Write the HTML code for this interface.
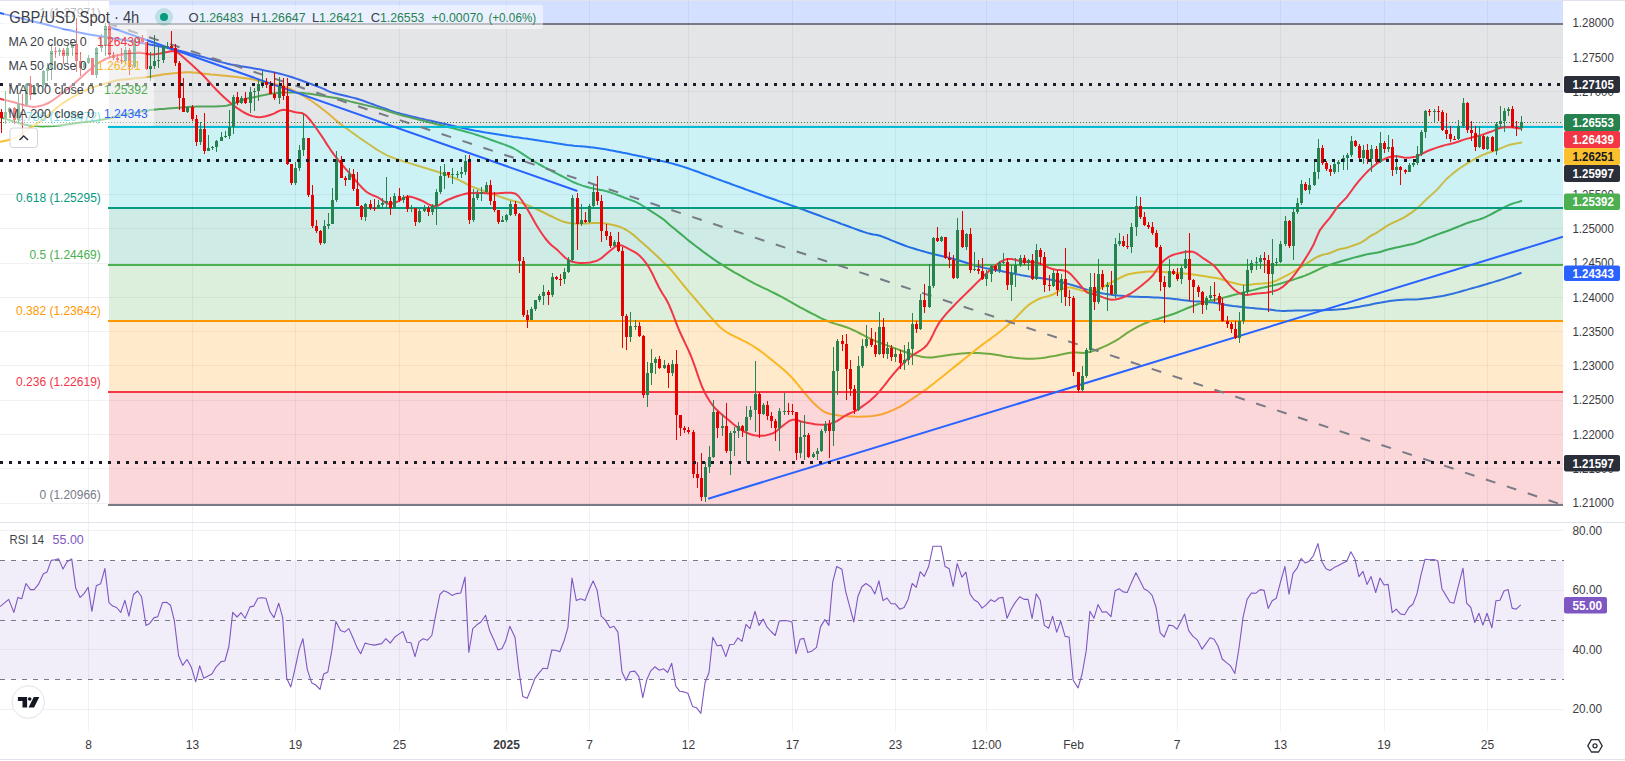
<!DOCTYPE html>
<html><head><meta charset="utf-8"><title>GBP/USD Spot 4h</title>
<style>
html,body{margin:0;padding:0;background:#ffffff;}
body{width:1625px;height:761px;overflow:hidden;font-family:"Liberation Sans",sans-serif;}
svg{display:block;}
</style></head><body>
<svg width="1625" height="761" viewBox="0 0 1625 761" font-family='"Liberation Sans", sans-serif'>
<rect x="0" y="0" width="1625" height="761" fill="#ffffff"/>
<defs>
<clipPath id="cm"><rect x="0" y="1" width="1563" height="520"/></clipPath>
<clipPath id="cr"><rect x="0" y="523" width="1564" height="207"/></clipPath>
</defs>
<path d="M88.5 1V522M88.5 523V731M192.5 1V522M192.5 523V731M295.5 1V522M295.5 523V731M399.5 1V522M399.5 523V731M506.5 1V522M506.5 523V731M589.5 1V522M589.5 523V731M688.5 1V522M688.5 523V731M792.5 1V522M792.5 523V731M895.5 1V522M895.5 523V731M986.5 1V522M986.5 523V731M1073.5 1V522M1073.5 523V731M1177.5 1V522M1177.5 523V731M1280.5 1V522M1280.5 523V731M1384.5 1V522M1384.5 523V731M1487.5 1V522M1487.5 523V731" stroke="#2a2e39" stroke-opacity="0.065" stroke-width="1" fill="none" shape-rendering="crispEdges"/>
<path d="M0 23.5H1563M0 57.5H1563M0 91.5H1563M0 125.5H1563M0 160.5H1563M0 194.5H1563M0 228.5H1563M0 263.5H1563M0 297.5H1563M0 331.5H1563M0 365.5H1563M0 400.5H1563M0 434.5H1563M0 468.5H1563M0 503.5H1563M0 530.5H1563M0 590.5H1563M0 649.5H1563M0 709.5H1563" stroke="#2a2e39" stroke-opacity="0.065" stroke-width="1" fill="none" shape-rendering="crispEdges"/>
<g clip-path="url(#cm)">
<path d="M0 13L1.8 13.4L4 14L6.5 14.6L9.4 15.3L12.5 16.1L15.8 17L19.2 17.8L22.8 18.7L26.4 19.6L29.9 20.5L33.4 21.4L36.8 22.2L40 23L43.1 23.8L46.1 24.5L49.1 25.3L52.2 26.1L55.2 26.9L58.2 27.6L61.3 28.4L64.3 29.2L67.4 29.9L70.5 30.6L73.6 31.3L76.8 32L80 32.7L83 33.3L86.1 33.9L89.2 34.4L92.3 34.9L95.5 35.4L98.7 35.9L101.9 36.4L105.1 36.9L108.3 37.4L111.5 37.9L114.7 38.4L117.9 38.9L121.1 39.5L124.3 40L127.5 40.6L130.8 41.1L134.1 41.7L137.4 42.3L140.7 42.9L144.1 43.5L147.4 44.1L150.7 44.7L153.9 45.3L157 45.9L160.1 46.5L163.1 47.1L165.9 47.6L168.6 48.2L172.5 49.1L176.1 49.9L179.5 50.7L182.7 51.5L185.7 52.3L188.7 53.1L191.7 53.9L194.8 54.8L198 55.6L201.3 56.5L204.6 57.4L207.9 58.4L211.2 59.3L214.5 60.3L217.8 61.2L221.1 62.1L224.4 62.9L227.7 63.7L231 64.4L234.3 65L237.6 65.6L240.9 66.2L244.2 66.7L247.4 67.2L250.7 67.8L254 68.4L257.3 69L260.6 69.6L263.8 70.3L267 70.9L270.2 71.6L273.4 72.2L276.7 73L280 73.8L283.4 74.6L286.8 75.6L289.8 76.5L292.9 77.5L296.2 78.6L299.5 79.8L302.8 81L306.1 82.2L309.3 83.4L312.4 84.5L315.2 85.6L317.8 86.6L320 87.4L324.3 89.1L326.7 90.4L328.8 91.4L332.3 92.6L334.8 93.3L337.6 94L340.7 94.7L343.9 95.5L347.2 96.3L350.5 97.1L353.8 97.9L357 98.8L360.1 99.8L363.3 100.8L366.5 102L369.6 103.1L372.8 104.3L375.8 105.4L378.7 106.4L381.5 107.4L384.7 108.5L387.5 109.5L390 110.5L392.8 111.4L396 112.4L400 113.5L402.4 114.1L405 114.8L407.8 115.5L410.7 116.2L413.8 116.9L416.9 117.6L420.1 118.4L423.4 119.1L426.6 119.9L429.8 120.6L432.9 121.3L436 122L439 122.7L442.1 123.4L445.2 124.1L448.2 124.8L451.3 125.5L454.4 126.2L457.5 126.9L460.5 127.6L463.5 128.2L466.4 128.8L469.2 129.4L472 130L475.6 130.7L479.1 131.3L482.5 131.9L485.8 132.5L489.1 133L492.3 133.5L495.4 134L498.5 134.5L501.5 135L504.8 135.5L508 136L511 136.4L514 136.9L517 137.3L520 137.7L523 138.2L526 138.6L529.1 139.1L532.3 139.5L535.5 140L538.7 140.5L541.9 141L545 141.4L547.9 141.9L550.8 142.3L554.4 142.9L557.8 143.4L561 143.9L564.1 144.4L567.3 144.9L570.5 145.3L573.8 145.7L577 146L580.2 146.2L583.5 146.5L586.7 146.8L590 147.2L593.3 147.6L596.6 148.1L600 148.6L603.4 149.1L606.7 149.6L610 150.2L613.3 150.8L616.5 151.4L619.8 152L623 152.7L626.2 153.3L629.5 154L632.6 154.7L635.6 155.3L638.6 155.9L641.8 156.6L645.3 157.4L649.2 158.3L651.8 158.9L654.5 159.5L657.3 160.1L660.3 160.7L663.3 161.4L666.5 162.1L669.7 162.9L673.1 163.7L676.5 164.7L680 165.7L682.8 166.6L685.6 167.5L688.6 168.5L691.6 169.6L694.7 170.7L697.8 171.8L701 173L704.2 174.2L707.4 175.4L710.6 176.5L713.8 177.7L716.9 178.9L720 180L723.1 181.1L726.2 182.2L729.2 183.3L732.3 184.5L735.4 185.6L738.5 186.7L741.5 187.8L744.6 189L747.7 190.1L750.8 191.2L753.8 192.3L756.9 193.4L760 194.5L763.1 195.6L766.1 196.7L769.1 197.7L772.2 198.8L775.2 199.8L778.2 200.9L781.2 201.9L784.3 203L787.4 204L790.5 205.1L793.6 206.2L796.8 207.3L800 208.5L803.1 209.6L806.3 210.8L809.6 212L813 213.3L816.4 214.5L819.9 215.8L823.3 217.1L826.7 218.4L830 219.6L833.2 220.8L836.3 221.9L839.2 223L842 224.1L844.6 225L848.7 226.5L852.4 227.9L855.8 229.1L858.9 230.2L861.7 231.2L864.3 232.1L866.7 232.9L869 233.6L873.2 234.5L875.8 234.7L880 235.7L882.4 236.6L885.2 237.7L888.2 238.9L891.4 240.3L894.8 241.7L898.1 243L901.4 244.3L904.6 245.5L907.7 246.6L910.8 247.6L913.8 248.5L916.9 249.5L920 250.4L923.1 251.3L926.1 252.1L929.2 253L932.3 253.8L935.3 254.6L938.4 255.3L941.5 256L944.6 256.7L947.6 257.4L950.7 258.2L953.8 259L956.9 259.9L960 260.8L963.1 261.8L966.2 262.8L969.2 263.8L972.3 264.8L975.4 265.7L978.5 266.5L981.6 267.2L984.6 267.9L987.7 268.5L990.7 269.1L993.8 269.7L996.9 270.2L999.9 270.8L1003 271.4L1006.1 272L1009.2 272.7L1012.3 273.3L1015.3 273.9L1018.4 274.6L1021.5 275.2L1024.6 275.7L1027.7 276.3L1030.8 276.8L1034 277.3L1037.1 277.7L1040.3 278.1L1043.4 278.6L1046.5 279L1049.5 279.5L1052.3 280L1055.9 280.7L1059.2 281.5L1062.5 282.4L1065.6 283.2L1068.8 284.1L1072 285L1075.3 286L1078.6 287L1081.8 288.1L1085.1 289.1L1088.4 290.1L1091.7 291L1095 291.8L1098.3 292.5L1101.6 293.2L1104.8 293.8L1108.1 294.3L1111.4 294.8L1114.7 295.2L1117.9 295.6L1121.2 295.8L1124.5 296.1L1127.7 296.3L1131 296.5L1134.3 296.7L1137.6 296.8L1140.9 296.9L1144.2 297L1147.5 297.1L1150.8 297.2L1154.1 297.4L1157.4 297.5L1160.7 297.7L1163.9 298L1167.2 298.2L1170.5 298.5L1173.8 298.9L1177.1 299.3L1180.4 299.8L1183.6 300.2L1186.9 300.6L1190.2 301L1193.5 301.3L1196.7 301.4L1200 301.6L1203.3 301.7L1206.5 301.9L1209.8 302.2L1213.1 302.6L1216.4 303.1L1219.6 303.7L1222.9 304.3L1226.2 304.9L1229.5 305.4L1232.8 305.9L1236.1 306.3L1239.3 306.7L1242.6 307.1L1245.9 307.4L1249.2 307.8L1252.6 308.1L1256.1 308.4L1259.6 308.7L1263 309L1266.2 309.2L1269 309.5L1273 310L1276 310.5L1280 310.8L1282.5 310.9L1285.1 310.9L1287.9 310.8L1291.2 310.7L1295.2 310.6L1300 310.5L1302.4 310.4L1305 310.4L1307.8 310.4L1310.7 310.4L1313.8 310.3L1317 310.3L1320.2 310.2L1323.6 310.2L1327 310.1L1330.4 310L1333.9 309.8L1337.3 309.6L1340.7 309.3L1344 309L1346.9 308.7L1349.9 308.2L1353 307.8L1356.2 307.2L1359.3 306.7L1362.5 306.1L1365.7 305.5L1368.9 304.9L1372.1 304.2L1375.2 303.6L1378.2 303L1381.2 302.5L1384.1 301.9L1386.9 301.5L1389.5 301L1392 300.7L1396.1 300.2L1399.9 299.9L1403.4 299.7L1406.6 299.6L1409.7 299.6L1412.6 299.5L1415.6 299.4L1418.5 299.3L1421.5 299L1424.9 298.6L1428.1 298.2L1431.3 297.8L1434.5 297.3L1437.6 296.8L1440.7 296.3L1443.8 295.7L1447 295L1450.2 294.3L1453.5 293.5L1456.7 292.6L1460 291.7L1463.2 290.8L1466.5 289.9L1469.8 288.9L1473 288L1476.3 287.1L1479.5 286.2L1482.8 285.2L1486.1 284.3L1489.3 283.3L1492.5 282.4L1495.7 281.4L1498.7 280.5L1502.2 279.4L1505.9 278.1L1509.6 276.9L1513.1 275.7L1516.2 274.6L1518.8 273.7L1520.8 273" stroke="#2962ff" stroke-width="2" fill="none" stroke-linejoin="round" stroke-linecap="round"/>
<path d="M0 117.2L2.2 117.9L5.4 118.9L8.9 120L12.3 121L15.3 122L18.3 122.9L21.3 123.8L24.6 124.6L28.1 125.2L31.7 125.7L35.5 126.1L39.4 126.3L42.7 126.4L46.1 126.3L49.6 126.2L53.1 126.1L56.6 125.8L60 125.4L63.4 125L66.7 124.5L70.2 123.9L73.8 123.4L77 123L80.4 122.6L83.8 122.2L87.2 121.8L90.5 121.4L93.5 121L97.5 120.4L101.2 119.8L104.7 119.2L108.3 118.5L112 117.6L115.6 116.7L119.3 115.7L123 114.8L126.7 114.1L130.4 113.5L134.1 112.9L137.8 112.3L141.5 111.6L145.2 111L148.9 110.3L152.6 109.8L156.3 109.4L160 109.1L163.7 108.9L167.4 108.6L171.1 108.3L174.7 108L178.3 107.7L182 107.4L185 107.2L188 107L191 106.8L194 106.7L197 106.6L200.7 106.6L204.4 106.6L208 106.6L211.7 106.6L215.5 106.5L219.4 106.3L223.1 106.1L226.5 105.7L230.1 104.8L233.2 103.7L236.3 102.5L239.4 101.3L242.6 100L246 98.8L248.9 98.1L252.1 97.5L255.3 96.9L258.5 96.3L261.6 95.6L264.7 95L267.7 94.3L270.8 93.8L273.9 93.4L276.9 93L279.9 92.8L283 92.6L286 92.5L289 92.5L292.1 92.5L295.4 92.6L298.9 92.8L302.5 93L306.3 93.4L310 93.8L313 94.2L316 94.7L319 95.2L322 95.8L325 96.3L328.7 96.9L332.4 97.5L336 98.1L339.7 98.8L343.4 99.6L347.1 100.6L350.8 101.6L354.5 102.5L358.2 103.4L361.8 104.2L365.5 105.1L369.2 106L372.9 106.9L376.5 107.8L380.2 108.8L384 109.8L387.1 110.7L390.1 111.7L393.3 112.7L396.5 113.8L400 114.8L403.1 115.7L406.4 116.5L409.8 117.4L413.2 118.3L416.6 119.1L420 120L423.3 120.8L426.7 121.7L430 122.5L433.4 123.3L436.7 124.2L440 125L443.3 125.8L446.7 126.7L450 127.5L453.3 128.3L456.6 129.2L459.7 130L463.3 131L466.8 132L470.2 132.9L473.6 133.9L477 135L480.4 136.1L483.8 137.3L487.2 138.4L490.6 139.7L494.2 141L497.4 142.1L500.6 143.3L504 144.4L507.4 145.7L510.6 147L513.8 148.5L517.4 150.5L521 152.8L524.4 155.1L527.8 157.4L531 159.5L534.9 161.8L538.5 164L542.2 166L545.8 168L549.5 169.9L553.2 171.8L556.9 173.6L560.6 175.5L564.3 177.4L568 179.4L571.7 181.3L575.4 183L579 184.4L582.5 185.6L586.2 186.7L590 187.8L593.3 188.6L596.8 189.2L600.3 189.9L603.9 190.6L607.4 191.5L610.9 192.6L614.5 193.9L618.1 195.2L621.5 196.5L624.6 197.7L628 199L631.1 200.1L634 201.2L637 202.6L640 204.2L642.9 206L646 207.9L649.2 210L652.9 212.4L657 215L660.9 217.6L664 219.8L669.8 225L671.9 226.7L674.5 228.8L677.4 231.3L680.6 233.9L683.9 236.6L687.3 239.4L690.7 242.1L694 244.7L697 247L700.2 249.4L703.2 251.7L706.2 253.9L709.1 256L712.1 258.1L715.1 260.2L718.2 262.3L721.5 264.4L724.6 266.3L727.8 268.3L731.1 270.3L734.4 272.3L737.8 274.2L741.2 276.2L744.5 278L747.8 279.9L751 281.6L754.1 283.3L757.2 284.8L760.3 286.3L763.3 287.8L766.3 289.2L769.3 290.7L772.2 292.1L775.1 293.5L778 295L781.2 296.7L784.4 298.4L787.5 300.2L790.6 301.9L793.6 303.7L796.7 305.4L799.7 307.1L802.8 308.7L805.9 310.3L809 312L812.1 313.6L815.3 315.2L818.4 316.8L821.4 318.3L824.4 319.7L827.4 321L830.7 322.3L834 323.4L837.2 324.4L840.3 325.3L843.4 326.3L846.5 327.3L849.5 328.4L853 330L856.6 331.7L860.1 333.5L863.4 335.2L866.5 336.8L869.2 338.2L873.1 340L876.1 341.3L880 342.8L882.8 343.9L886.1 345.1L889.6 346.4L893.2 347.7L896.6 348.9L899.7 350L903.7 351.5L907.4 352.8L910.9 354L914.5 355L918.1 355.9L921.5 356.7L925.2 357.3L929.2 357.5L932.2 357.4L935.4 357L938.8 356.5L942.2 356L945.7 355.4L949 355L952.3 354.6L955.5 354.2L958.8 353.8L962.1 353.4L965.3 353.2L968.6 353L971.8 352.9L975 353L978.1 353L981.4 353.2L984.7 353.5L988.3 353.8L991.2 354.1L994.2 354.6L997.4 355.1L1000.7 355.6L1003.9 356.2L1007.1 356.7L1010.1 357.1L1013 357.5L1016.6 357.9L1019.9 358.3L1023.1 358.5L1026.2 358.7L1029.4 358.8L1032.6 358.8L1035.9 358.6L1039.2 358.3L1042.4 357.9L1045.7 357.4L1049 356.8L1052.3 356.3L1055.6 355.7L1059 355L1062.5 354.3L1065.8 353.6L1069 353L1072 352.6L1076 352.5L1079.7 352.7L1083.2 352.9L1086.8 352.6L1090.5 351.8L1094.2 350.6L1097.8 349.2L1101.5 347.7L1105.2 346.1L1108.9 344.3L1112.6 342.4L1116.3 340.3L1120 338L1123.7 335.4L1127.3 332.8L1131 330.5L1134.7 328.4L1138.4 326.4L1142.1 324.6L1145.8 323L1149.5 321.6L1153.2 320.3L1156.9 319.2L1160.6 318L1164.3 316.8L1168 315.7L1171.7 314.5L1175.4 313.2L1179.1 311.7L1182.8 310.1L1186.5 308.5L1190.2 307L1193.9 305.6L1197.6 304.3L1201.3 303.1L1205 302L1208.7 301L1212.4 300.2L1216 299.4L1219.7 298.5L1223.4 297.6L1227.1 296.7L1230.8 295.7L1234.5 294.8L1238.2 293.9L1241.9 292.9L1245.5 291.9L1249.2 291L1252.9 290.1L1256.5 289.2L1260.2 288.3L1264 287.4L1267 286.7L1269.9 286.1L1272.9 285.5L1276.2 284.7L1280 283.7L1282.7 282.9L1285.7 282L1288.9 281L1292.2 280L1295.5 278.9L1298.8 277.8L1302 276.7L1305 275.6L1308.2 274.3L1311.3 272.9L1314.4 271.5L1317.3 270.1L1320.2 268.7L1323.1 267.4L1326 266.2L1329.4 264.9L1332.9 263.8L1336.4 262.7L1339.7 261.7L1342.8 260.8L1345.6 260L1349.2 259L1352.1 258.1L1354.8 257.4L1357.6 256.7L1361.4 255.7L1365.1 254.7L1368.6 253.9L1371.8 253.4L1374.8 253L1377.8 252.5L1380.9 251.7L1383.9 250.7L1387 249.8L1390.1 249L1393.1 248.2L1396.2 247.5L1399.2 246.9L1402.2 246.3L1405.4 245.6L1408.9 244.8L1412.7 244L1416.4 242.9L1420.1 241.5L1423.8 239.9L1427.5 238.3L1431.2 236.9L1434.8 235.5L1438.5 234.1L1442.1 232.8L1445.8 231.5L1450 230L1453 228.8L1456.2 227.5L1459.5 226.1L1463 224.7L1466.3 223.4L1469.6 222.3L1472.9 221.3L1476.2 220.4L1479.5 219.4L1482.6 218.3L1486.4 216.6L1490 214.8L1493.5 213L1496.9 211.2L1500.1 209.5L1503.1 207.9L1506 206.4L1509 205L1512.3 203.8L1515.9 202.6L1519.1 201.7L1521.3 201" stroke="#4caf50" stroke-width="2" fill="none" stroke-linejoin="round" stroke-linecap="round"/>
<path d="M0 141.8L2.7 141.3L6.5 140.5L10.8 139.5L14.8 138L18.5 136L22.2 133.5L25.8 130.9L29.5 128.3L33.2 125.9L36.9 123.6L40.6 121.1L44.3 118.5L48 115.5L51.6 112.2L55.3 109L59 106L62.7 103.3L66.4 100.8L70.1 98.5L73.8 96.3L77.5 94.3L81.2 92.4L84.9 90.6L88.6 89L92.3 87.6L96 86.3L99.7 85.1L103.4 84L107.1 82.9L110.7 81.9L114.3 81.1L118 80.3L121 79.8L124 79.5L127 79.2L130 78.9L133 78.6L136.7 78.2L140.4 77.8L144 77.5L147.7 77L151.4 76.4L155.1 75.8L158.8 75.2L162.5 74.6L166.2 74.1L170 73.7L173.7 73.3L177.2 73L180.4 72.7L183.3 72.4L186.3 72.2L189.5 72.2L193 72.4L196.6 72.8L200.4 73.3L204.3 73.7L207.6 74L211.1 74.4L214.7 74.7L218.2 75.1L221.5 75.4L225.4 75.8L229.1 76.2L232.7 76.6L236.3 77L240 77.4L243.7 77.9L247.3 78.4L251 79L254.7 79.9L258.4 80.9L262.1 81.9L265.8 82.8L269.5 83.4L273.2 83.8L276.9 84.4L280.6 85.2L284.3 86.4L288 87.9L291.7 89.6L295.4 91.4L299.1 93.3L302.7 95.4L306.3 97.6L310 100L313 102L316 104.2L319 106.4L322 108.7L325 111L328.8 114.1L332.6 117.3L336.2 120.5L339.7 123.4L343.7 126.5L347.4 129.1L351.4 132L354.8 134.4L358.3 137L362.1 139.6L366 142.3L369.3 144.5L372.9 146.9L376.5 149.3L380.1 151.5L383.4 153.4L387.1 155.3L390.5 156.8L394 158.1L398 159.5L401 160.5L404.2 161.6L407.6 162.6L411 163.6L414.4 164.7L417.8 165.7L421.1 166.7L424.4 167.7L427.7 168.7L430.9 169.7L434.2 170.7L437.5 171.8L440.8 173L444.2 174.2L447.7 175.4L451 176.7L454.2 178L457.2 179.2L461.2 181.1L464.8 183L468.2 184.8L472 186.6L475.3 187.9L478.7 189.2L482.2 190.4L485.7 191.6L489.2 192.8L492.7 194.1L496.1 195.3L499.6 196.6L503 197.8L506.5 199L510 200L513.5 201L517 201.8L520.4 202.8L523.7 203.8L527.6 205.3L531.4 206.8L535 208.4L538.5 210L541.7 211.5L544.7 213L547.6 214.5L550.8 216L554.2 217.7L557.8 219.4L561.6 221.1L565.5 222.3L568.8 222.9L572.2 223.2L575.8 223.4L579.3 223.5L582.8 223.5L586.2 223.5L589.7 223.3L593.1 223L596.6 222.9L600 223L603.5 223.3L607.1 223.8L610.7 224.4L614.1 225.2L617.2 226L620.6 227.1L623.5 228.4L626.4 230L629.5 232L633 234.6L636.7 237.8L640.5 241.2L644.3 244.5L648 247.8L651.8 251.3L655.5 254.7L659 258L662.2 261.1L665.3 264L668.3 267L671.4 270.3L674.6 274.1L677.8 278.1L681.2 282.3L684.6 286.5L688.2 290.8L691.9 295.1L695.7 299.5L699.4 303.8L703.2 308.3L707 312.8L710.7 317.1L714.2 321L717.1 324.1L719.6 326.7L722.5 329.2L726.5 332L729.1 333.6L732.2 335.2L735.5 336.8L739 338.5L742.6 340.3L746.2 342.1L749.7 344L753 346L756.2 348.1L759.5 350.4L762.8 352.8L766 355.3L769.1 357.7L772.1 360.1L774.9 362.4L777.5 364.5L782 368.2L785.7 371.6L789.1 374.7L792.3 378L796.2 382.5L799.7 386.9L803.4 391.5L806.7 395.3L810.1 399.3L813.6 403.1L817 406.3L819.9 408.8L822.4 410.7L825.3 412.3L829.2 413.7L831.7 414.3L834.5 414.8L837.5 415.3L840.7 415.7L844 416L847.4 416.3L850.6 416.5L853.8 416.6L856.9 416.7L860 416.7L863.2 416.6L866.3 416.5L869.4 416.3L872.5 416L875.5 415.6L878.5 415L881.8 414.2L885 413.2L888.1 412.1L891.3 410.8L894.4 409.4L897.5 407.9L900.6 406.3L903.9 404.4L907.4 402.2L910.9 399.8L914.4 397.4L917.6 395.2L920.5 393.1L922.8 391.5L925.8 389.6L929.2 387L931.4 385.3L934.1 383.2L937.1 380.8L940.4 378.2L943.8 375.4L947.2 372.7L950.6 370L953.8 367.4L956.9 364.9L960.1 362.4L963.3 359.8L966.5 357.2L969.6 354.7L972.7 352.3L975.7 349.9L978.5 347.7L982.1 344.9L985.6 342.3L989 339.9L992.2 337.5L995.3 335.3L998.2 333L1002.2 329.8L1005.9 326.8L1009.4 323.8L1013 320.6L1016.7 316.9L1020.5 312.9L1024.2 309L1027.7 305.8L1030.9 303.4L1034 301.5L1037 299.9L1040 298.5L1043 297.4L1046 296.7L1049.1 295.9L1052.3 294.8L1055.7 293L1059.3 290.6L1063.1 288.6L1067 287.4L1070.4 287.5L1074 288.3L1077.6 289.4L1081.1 290.4L1084.3 291L1087.7 291.2L1090.6 291.1L1093.5 290.6L1096.6 289.8L1100.1 288.4L1103.8 286.5L1107.6 284.5L1111.4 282.5L1115.2 280.5L1119 278.4L1122.7 276.5L1126.2 275L1129.4 274L1132.4 273.4L1135.3 273L1138.5 272.6L1141.9 272.2L1145.5 271.8L1149.3 271.5L1153.2 271.4L1156.5 271.5L1159.9 271.7L1163.5 272L1167 272.3L1170.5 272.6L1173.9 272.8L1177.4 273L1180.8 273.2L1184.3 273.5L1187.7 273.8L1191.2 274.2L1194.7 274.7L1198.3 275.2L1201.7 275.8L1205 276.3L1208.9 276.9L1212.7 277.5L1216.3 278.1L1219.7 278.8L1222.9 279.7L1226 280.7L1229 281.6L1232 282.5L1235 283.3L1238 284.1L1241.1 284.7L1244.3 285L1247.9 284.9L1251.6 284.6L1255.4 284.1L1259 283.7L1262.4 283.5L1265.6 283.2L1268.6 283L1271.4 282.5L1276 280.8L1280 278.8L1283.9 276.9L1288.3 274.6L1291.1 273L1294.1 271.3L1297.4 269.3L1301 267.2L1304.2 265.2L1307.6 262.9L1311.1 260.6L1314.6 258.4L1317.7 256.7L1321.2 255.3L1324.4 254.4L1327.4 253.7L1330 253L1333.9 251.3L1337.4 249.8L1340.1 249.1L1343.1 248.6L1346.6 247.7L1350 246.6L1353.9 245.3L1357.9 243.9L1361.3 242.4L1364.9 240.2L1367.9 237.9L1370.5 236L1376 233.2L1379.3 231L1383.3 228.3L1387 225.9L1390.2 224.2L1393.2 222.7L1396.2 221.3L1399.2 219.9L1402.2 218.5L1405.4 216.7L1408.9 214.4L1412.7 211.8L1416.4 208.9L1420.2 205.5L1423.9 201.8L1427.5 198.3L1430.7 195.4L1433.7 192.8L1436.7 190L1439.7 186.7L1442.7 183.1L1446 179.6L1448.8 177L1451.8 174.4L1454.9 171.9L1458.2 169.4L1461.7 167L1465.3 164.6L1468.9 162.3L1472.4 160.3L1475.6 158.5L1478.6 156.9L1481.6 155.5L1484.6 154.2L1487.7 153L1490.8 152L1493.8 151.1L1496.9 150L1499.9 148.7L1503 147.4L1506 146.1L1509 145L1512.3 144.2L1515.9 143.5L1519.1 143L1521.3 142.6" stroke="#fbc02d" stroke-width="2" fill="none" stroke-linejoin="round" stroke-linecap="round"/>
<rect x="109" y="0" width="1454" height="24" fill="#2962ff" fill-opacity="0.2"/>
<rect x="109" y="24" width="1454" height="103" fill="#787b86" fill-opacity="0.2"/>
<rect x="109" y="127" width="1454" height="81" fill="#00bcd4" fill-opacity="0.2"/>
<rect x="109" y="208" width="1454" height="57" fill="#089981" fill-opacity="0.2"/>
<rect x="109" y="265" width="1454" height="56" fill="#4caf50" fill-opacity="0.2"/>
<rect x="109" y="321" width="1454" height="71" fill="#ff9800" fill-opacity="0.2"/>
<rect x="109" y="392" width="1454" height="113" fill="#f23645" fill-opacity="0.2"/>
<rect x="108" y="23" width="1455" height="2" fill="#787b86"/>
<rect x="108" y="126" width="1455" height="2" fill="#00bcd4"/>
<rect x="108" y="207" width="1455" height="2" fill="#089981"/>
<rect x="108" y="264" width="1455" height="2" fill="#4caf50"/>
<rect x="108" y="320" width="1455" height="2" fill="#ff9800"/>
<rect x="108" y="391" width="1455" height="2" fill="#f23645"/>
<rect x="108" y="504" width="1455" height="2" fill="#787b86"/>
<text x="100.8" y="17.2" font-size="12" fill="#787b86" text-anchor="end">1 (1.27971)</text>
<text x="100.8" y="121.2" font-size="12" fill="#00bcd4" text-anchor="end">0.786 (1.26472)</text>
<text x="100.8" y="202.2" font-size="12" fill="#089981" text-anchor="end">0.618 (1.25295)</text>
<text x="100.8" y="259.2" font-size="12" fill="#4caf50" text-anchor="end">0.5 (1.24469)</text>
<text x="100.8" y="315.2" font-size="12" fill="#ff9800" text-anchor="end">0.382 (1.23642)</text>
<text x="100.8" y="386.2" font-size="12" fill="#f23645" text-anchor="end">0.236 (1.22619)</text>
<text x="100.8" y="499.2" font-size="12" fill="#787b86" text-anchor="end">0 (1.20966)</text>
<path d="M0 98.8L2.7 99.5L6.6 100.4L10.9 101.5L14.8 102.5L18.1 103.5L21.2 104.4L24.2 105.3L27 106L30.4 106.6L33.6 106.9L37 106.6L39.9 106L43 105.1L46.1 104L49.2 102.5L52.3 100.7L55.3 98.5L58.4 96.2L61.5 93.8L64.6 91.5L67.7 89L70.7 86.6L73.8 84L76.8 81.3L79.9 78.5L82.9 75.7L86 73L89.1 70.3L92.2 67.7L95.4 65.2L98.5 63L101.6 61.1L104.7 59.5L107.7 58.2L110.8 57L113.8 56.1L116.7 55.5L119.8 55L123 54.5L126.5 53.9L130.2 53.2L134 52.7L137.8 52.5L141.5 52.8L145.2 53.5L148.9 54.2L152.6 54.5L156.4 54.1L160.4 53.4L164.1 52.6L167.4 52L171.9 51L176 51.5L179.3 53.7L183 56.9L187 60.6L190.4 63.6L194.2 66.9L198 70.4L201.8 74L205.5 77.9L209.2 82L212.9 86.1L216.6 90L220.3 93.7L224 97.2L227.7 100.6L231.4 103.7L235.1 106.6L238.8 109.2L242.5 111.6L246 113.5L249.3 115L252.4 116.1L255.4 116.8L258.5 117.2L261.6 117.1L264.7 116.5L267.7 115.7L270.8 114.8L273.9 113.6L276.9 112L279.9 110.6L283 109.8L286.1 109.9L289.3 110.6L292.5 111.5L295.4 112.3L298.8 112.7L301.8 113L305.2 114.8L308 117.5L310.9 121L314.1 125.2L317.5 130L320.5 134.4L323.8 139.3L327.1 144.6L330.6 149.8L334 154.6L337.5 159.1L341 163.5L344.6 167.7L348.1 171.7L351.4 175.5L355.3 180.1L359 184.4L362.6 188.3L366 191.5L369.3 193.7L372.5 195.2L375.6 196.4L378.5 197.7L382 200.1L385.1 202.4L388.3 203.8L391.5 203.7L394.7 202.7L398 201.4L401.2 199.6L404.5 197.6L408 196.5L410.9 196.7L413.9 197.6L417 198.7L420.3 200L423.9 201.7L427.6 203.8L431.4 205.5L435 206.3L438.1 205.6L441 203.9L444 201.8L447.4 200L450.6 198.7L454.2 197.3L457.8 196L461.4 194.9L464.6 194L468 193.3L471 193L473.9 192.9L477 192.8L480.4 192.9L483.9 193.1L487.6 193.4L491.7 193.5L494.8 193.4L498.4 193.2L502 193L505.6 192.8L508.8 192.7L511.4 192.8L515.7 193.7L518.8 196.5L521.9 200.5L525.2 205.7L528.6 211.2L531.9 216.9L535.2 222.9L538.5 228.5L541.8 233.5L545 238L548.3 242L551.5 245.2L554.7 247.8L558 250.6L561.5 254.1L565.2 257.7L569.2 260.5L572.4 261.8L575.8 262.5L579.3 262.9L582.8 263L586.5 262.8L590.4 262.4L594.1 261.6L597.5 260.5L601.1 258.4L604.2 255.7L607.4 253L611 250L614.8 246.9L618.5 245.2L622.2 245.6L625.9 247.4L629.5 249.4L632.9 251.1L636.1 252.9L639.4 255.5L642.7 258.9L645.9 262.9L649.2 267.8L652.5 273.9L655.7 280.8L659 287.5L662.3 293.2L665.7 298.5L669 304.8L672.2 312.5L675.5 321.2L679 330L682 336.5L685.1 343.1L688.3 349.9L691.4 357L695.2 367.4L698.9 378.3L702.5 387.8L706 395.1L709.6 401L713.5 406.3L716.9 410.1L720.7 413.5L724.5 416.7L728.3 419.8L732 422.9L735.6 425.9L739.3 428.7L743 431L746.7 432.8L750.4 434.2L754.1 435.3L757.8 435.8L761.6 435.8L765.5 435.4L769.2 434.5L772.6 433.4L776.3 431.3L779.4 428.6L782.5 426L785.7 423.5L788.9 421.2L792.3 419.8L795.1 419.8L798 420.5L801.1 421.5L804.6 422.3L807.8 422.9L811.4 423.5L815 424.2L818.6 424.6L821.8 424.8L825.2 424.6L828.3 424.2L831.2 423.4L834.2 422.3L837.3 420.8L840.4 418.9L843.4 416.9L846.5 415L849.5 413.5L852.3 412.3L855.4 410.8L858.8 408.8L861.9 406.7L865.3 404.3L868.8 401.7L872.4 398.6L876 395.2L879.1 391.8L882.3 388L885.6 383.8L888.8 379.7L891.9 375.8L894.8 372.3L898.7 368L902.2 364.2L905.7 360.8L909.5 357.5L912.9 355L916.5 352.9L920.1 350.7L923.6 348.3L926.8 345.2L930.1 340.2L933.1 334.4L935.9 328.4L939 323L942.5 318.3L946.2 313.9L950 309.8L953.8 305.8L957.5 301.9L961.2 298.2L964.9 294.6L968.6 291L972.4 287.2L976.2 283.4L979.9 279.7L983.4 276.3L986.7 273.2L989.7 270.2L992.7 267.5L995.7 265.2L998.7 263.1L1001.7 261.2L1004.7 259.8L1008 259L1011.5 259L1015.2 259.8L1019 260.8L1022.8 261.5L1026.5 261.8L1030.2 261.9L1033.8 262.2L1037.5 262.8L1041.2 264.1L1044.9 265.8L1048.6 267.6L1052.3 269L1056.1 269.7L1059.9 270L1063.7 270.4L1067 271.4L1070.7 274.1L1073.9 277.6L1077 281.2L1080.3 285.1L1083.5 289.2L1086.8 292.3L1089.9 293.7L1093 294.1L1096.6 294.8L1099.9 296.1L1103.7 297.6L1107.6 299L1111.4 299.7L1115.1 299.5L1118.8 298.8L1122.5 297.6L1126.2 296L1130 294L1133.8 291.5L1137.5 288.7L1141 286L1144.3 283.3L1147.6 280.6L1150.5 277.8L1153.2 275L1157.1 269.3L1160.6 264L1164.7 259.8L1169.2 256.6L1172.7 255L1176.4 253.9L1180.3 253L1183.3 252.3L1186.5 251.7L1189.7 251.5L1192.6 251.7L1196 253.1L1199.1 255.3L1202.5 257.8L1205.5 259.7L1208.7 261.8L1211.8 264L1214.8 266.5L1218.2 270.4L1221.4 274.7L1224.6 278.8L1227.9 282.8L1231.2 286.6L1234.5 289.8L1237.7 292.1L1240.9 293.8L1244.3 294.8L1247.2 294.9L1250.3 294.5L1253.5 294L1256.6 293.5L1259.7 293.3L1262.9 293L1266 292.8L1269 292.3L1272.8 291.4L1276.5 290.3L1280 288.6L1283.4 286.3L1286.7 283.4L1290 280L1293.2 276.3L1296.4 272.2L1300 267L1303.3 261.9L1307 256L1310.6 250L1313.5 244.8L1316.7 237.1L1319.6 230.6L1322.9 226.1L1326.6 221.7L1330 217.6L1333.8 212.1L1337.4 207L1340.5 203.6L1343.7 200.4L1346.6 197.4L1352 190L1354.8 186.1L1358.3 181.7L1361.4 178.1L1365 174.1L1368.5 170.5L1371.9 167.4L1375.3 164.7L1378.7 162.3L1382.2 160.2L1385.7 158.5L1388.9 157.2L1393 156.3L1397 156.2L1400.2 156.7L1403.7 157.4L1407.2 157.8L1410.6 157.6L1414 157.1L1417.4 156.2L1420.6 154.7L1423.9 152.9L1427.6 151L1430.9 149.7L1434.6 148.4L1438.4 147.1L1441.9 146L1445.1 145.1L1448.1 144.4L1451 143.8L1454 143L1457.1 142L1460.1 141L1463.2 139.9L1466.3 138.9L1469.4 138.1L1472.4 137.3L1475.5 136.6L1478.5 135.8L1481.6 134.9L1484.7 133.9L1487.8 132.8L1490.7 131.8L1494.3 130.3L1497.7 128.8L1501 127.7L1504.3 127.2L1507.7 127.2L1511 127.3L1514.8 127.7L1518.6 128.3L1521.3 128.7" stroke="#f23645" stroke-width="2" fill="none" stroke-linejoin="round" stroke-linecap="round"/>
<path d="M110 27.3L577.4 191" stroke="#2962ff" stroke-width="2" fill="none"/>
<path d="M708.2 498.7L1563 236.8" stroke="#2962ff" stroke-width="2" fill="none"/>
<path d="M109.3 24L1563 505" stroke="#787b86" stroke-width="2" stroke-dasharray="10 12" stroke-dashoffset="2" fill="none"/>
<path d="M4 112h3v6h-3zM5 91h1v21h-1zM5 118h1v6h-1zM8 108h3v4h-3zM9 107h1v1h-1zM9 112h1v2h-1zM17 104h3v16h-3zM18 93h1v11h-1zM18 120h1v3h-1zM25 84h3v21h-3zM26 83h1v1h-1zM26 105h1v1h-1zM33 87h3v8h-3zM37 85h3v2h-3zM38 83h1v2h-1zM42 71h3v14h-3zM43 70h1v1h-1zM43 85h1v2h-1zM46 68h3v3h-3zM47 63h1v5h-1zM47 71h1v10h-1zM50 51h3v17h-3zM51 44h1v7h-1zM51 68h1v12h-1zM58 50h3v2h-3zM59 48h1v2h-1zM59 52h1v4h-1zM66 48h3v8h-3zM67 45h1v3h-1zM67 56h1v7h-1zM71 44h3v4h-3zM72 42h1v2h-1zM72 48h1v8h-1zM83 63h3v5h-3zM84 68h1v2h-1zM87 58h3v5h-3zM88 55h1v3h-1zM88 63h1v1h-1zM95 48h3v27h-3zM96 47h1v1h-1zM96 75h1v3h-1zM100 46h3v2h-3zM101 34h1v12h-1zM101 48h1v4h-1zM104 26h3v20h-3zM105 23h1v3h-1zM105 46h1v10h-1zM124 50h3v11h-3zM125 47h1v3h-1zM125 61h1v3h-1zM133 40h3v27h-3zM134 39h1v1h-1zM134 67h1v1h-1zM137 38h3v2h-3zM138 36h1v2h-1zM138 40h1v2h-1zM149 66h3v3h-3zM150 52h1v14h-1zM150 69h1v12h-1zM153 61h3v5h-3zM154 35h1v26h-1zM154 66h1v3h-1zM157 60h3v1h-3zM158 46h1v14h-1zM158 61h1v7h-1zM162 46h3v14h-3zM163 45h1v1h-1zM163 60h1v3h-1zM166 46h3v1h-3zM167 42h1v4h-1zM167 47h1v2h-1zM186 107h3v5h-3zM187 112h1v1h-1zM199 129h3v13h-3zM200 122h1v7h-1zM200 142h1v3h-1zM207 148h3v3h-3zM208 135h1v13h-1zM211 147h3v1h-3zM212 146h1v1h-1zM212 148h1v2h-1zM215 141h3v6h-3zM216 140h1v1h-1zM216 147h1v5h-1zM220 137h3v4h-3zM221 132h1v5h-1zM224 136h3v1h-3zM225 131h1v5h-1zM225 137h1v1h-1zM228 127h3v9h-3zM229 110h1v17h-1zM229 136h1v3h-1zM232 97h3v30h-3zM233 95h1v2h-1zM233 127h1v7h-1zM240 98h3v5h-3zM241 96h1v2h-1zM241 103h1v1h-1zM249 92h3v11h-3zM250 87h1v5h-1zM250 103h1v10h-1zM253 91h3v1h-3zM254 88h1v3h-1zM254 92h1v19h-1zM257 84h3v7h-3zM258 80h1v4h-1zM258 91h1v10h-1zM261 82h3v2h-3zM262 71h1v11h-1zM262 84h1v4h-1zM278 86h3v12h-3zM279 77h1v9h-1zM279 98h1v6h-1zM294 168h3v15h-3zM295 162h1v6h-1zM295 183h1v2h-1zM298 150h3v18h-3zM299 145h1v5h-1zM299 168h1v3h-1zM302 138h3v12h-3zM303 114h1v24h-1zM303 150h1v6h-1zM323 226h3v17h-3zM324 220h1v6h-1zM324 243h1v1h-1zM327 224h3v2h-3zM328 213h1v11h-1zM328 226h1v3h-1zM331 200h3v24h-3zM332 188h1v12h-1zM335 160h3v40h-3zM336 151h1v9h-1zM336 200h1v2h-1zM348 174h3v6h-3zM349 168h1v6h-1zM364 204h3v13h-3zM365 203h1v1h-1zM365 217h1v4h-1zM377 205h3v4h-3zM378 200h1v5h-1zM381 203h3v2h-3zM382 198h1v5h-1zM382 205h1v4h-1zM385 201h3v2h-3zM386 177h1v24h-1zM386 203h1v6h-1zM393 196h3v12h-3zM394 193h1v3h-1zM402 197h3v3h-3zM403 195h1v2h-1zM403 200h1v3h-1zM410 208h3v1h-3zM411 205h1v3h-1zM411 209h1v3h-1zM418 211h3v11h-3zM419 209h1v2h-1zM419 222h1v1h-1zM423 208h3v3h-3zM424 205h1v3h-1zM424 211h1v1h-1zM431 206h3v6h-3zM432 204h1v2h-1zM432 212h1v3h-1zM435 192h3v14h-3zM436 189h1v3h-1zM436 206h1v19h-1zM439 176h3v16h-3zM440 166h1v10h-1zM440 192h1v2h-1zM443 172h3v4h-3zM444 164h1v8h-1zM444 176h1v13h-1zM451 174h3v1h-3zM452 168h1v6h-1zM452 175h1v9h-1zM456 174h3v1h-3zM457 171h1v3h-1zM457 175h1v3h-1zM460 172h3v2h-3zM461 167h1v5h-1zM461 174h1v4h-1zM464 161h3v11h-3zM465 155h1v6h-1zM465 172h1v3h-1zM472 198h3v22h-3zM473 189h1v9h-1zM473 220h1v2h-1zM476 194h3v4h-3zM477 190h1v4h-1zM477 198h1v2h-1zM480 192h3v2h-3zM481 187h1v5h-1zM481 194h1v7h-1zM485 185h3v7h-3zM486 182h1v3h-1zM486 192h1v1h-1zM501 220h3v2h-3zM502 216h1v4h-1zM505 215h3v5h-3zM506 214h1v1h-1zM506 220h1v2h-1zM509 204h3v11h-3zM510 201h1v3h-1zM510 215h1v1h-1zM530 309h3v11h-3zM531 307h1v2h-1zM534 300h3v9h-3zM535 309h1v2h-1zM538 296h3v4h-3zM539 294h1v2h-1zM539 300h1v2h-1zM542 292h3v4h-3zM543 285h1v7h-1zM543 296h1v9h-1zM551 277h3v18h-3zM552 273h1v4h-1zM552 295h1v2h-1zM563 272h3v7h-3zM564 268h1v4h-1zM564 279h1v5h-1zM567 260h3v12h-3zM568 257h1v3h-1zM568 272h1v1h-1zM571 198h3v62h-3zM572 195h1v3h-1zM572 260h1v2h-1zM580 220h3v4h-3zM581 204h1v16h-1zM581 224h1v2h-1zM588 206h3v16h-3zM589 204h1v2h-1zM589 222h1v1h-1zM592 192h3v14h-3zM593 185h1v7h-1zM593 206h1v1h-1zM613 242h3v4h-3zM614 240h1v2h-1zM614 246h1v1h-1zM629 326h3v11h-3zM630 312h1v14h-1zM630 337h1v5h-1zM634 326h3v1h-3zM635 320h1v6h-1zM635 327h1v3h-1zM646 373h3v22h-3zM647 362h1v11h-1zM647 395h1v12h-1zM650 363h3v10h-3zM651 349h1v14h-1zM651 373h1v12h-1zM654 359h3v4h-3zM655 357h1v2h-1zM655 363h1v11h-1zM663 365h3v3h-3zM664 360h1v5h-1zM664 368h1v1h-1zM671 364h3v9h-3zM672 360h1v4h-1zM672 373h1v3h-1zM704 467h3v30h-3zM705 462h1v5h-1zM705 497h1v5h-1zM708 457h3v10h-3zM709 446h1v11h-1zM709 467h1v6h-1zM712 412h3v45h-3zM713 400h1v12h-1zM713 457h1v1h-1zM721 426h3v2h-3zM722 414h1v12h-1zM722 428h1v8h-1zM729 433h3v18h-3zM730 431h1v2h-1zM730 451h1v24h-1zM733 431h3v2h-3zM734 427h1v4h-1zM734 433h1v23h-1zM737 426h3v5h-3zM738 422h1v4h-1zM738 431h1v7h-1zM745 417h3v14h-3zM746 406h1v11h-1zM746 431h1v31h-1zM749 410h3v7h-3zM750 406h1v4h-1zM750 417h1v3h-1zM754 394h3v16h-3zM755 361h1v33h-1zM755 410h1v22h-1zM762 405h3v9h-3zM763 403h1v2h-1zM763 414h1v1h-1zM778 411h3v17h-3zM779 408h1v3h-1zM779 428h1v23h-1zM783 411h3v1h-3zM784 393h1v18h-1zM784 412h1v3h-1zM799 437h3v16h-3zM800 421h1v16h-1zM800 453h1v5h-1zM803 435h3v2h-3zM804 415h1v20h-1zM804 437h1v23h-1zM812 454h3v3h-3zM813 452h1v2h-1zM813 457h1v1h-1zM816 451h3v3h-3zM817 448h1v3h-1zM817 454h1v6h-1zM820 431h3v20h-3zM821 429h1v2h-1zM821 451h1v1h-1zM824 424h3v7h-3zM825 421h1v3h-1zM825 431h1v2h-1zM832 371h3v60h-3zM833 347h1v24h-1zM833 431h1v15h-1zM836 341h3v30h-3zM837 339h1v2h-1zM837 371h1v24h-1zM857 366h3v44h-3zM858 356h1v10h-1zM858 410h1v1h-1zM861 346h3v20h-3zM862 339h1v7h-1zM862 366h1v2h-1zM865 339h3v7h-3zM866 325h1v14h-1zM866 346h1v2h-1zM878 327h3v27h-3zM879 312h1v15h-1zM879 354h1v1h-1zM886 348h3v6h-3zM887 342h1v6h-1zM887 354h1v5h-1zM894 354h3v3h-3zM895 348h1v6h-1zM895 357h1v5h-1zM903 360h3v3h-3zM904 345h1v15h-1zM904 363h1v7h-1zM907 349h3v11h-3zM908 342h1v7h-1zM908 360h1v5h-1zM911 324h3v25h-3zM912 313h1v11h-1zM912 349h1v16h-1zM919 300h3v29h-3zM920 294h1v6h-1zM920 329h1v1h-1zM928 286h3v21h-3zM929 264h1v22h-1zM929 307h1v1h-1zM932 238h3v48h-3zM933 237h1v1h-1zM933 286h1v2h-1zM940 237h3v4h-3zM941 236h1v1h-1zM941 241h1v1h-1zM956 230h3v48h-3zM957 218h1v12h-1zM957 278h1v1h-1zM965 234h3v13h-3zM966 233h1v1h-1zM966 247h1v3h-1zM973 269h3v1h-3zM974 252h1v17h-1zM974 270h1v1h-1zM985 274h3v5h-3zM986 270h1v4h-1zM986 279h1v7h-1zM990 266h3v8h-3zM991 265h1v1h-1zM991 274h1v8h-1zM998 263h3v7h-3zM999 261h1v2h-1zM999 270h1v3h-1zM1002 262h3v1h-3zM1003 253h1v9h-1zM1003 263h1v1h-1zM1010 273h3v12h-3zM1011 265h1v8h-1zM1011 285h1v16h-1zM1014 265h3v8h-3zM1015 258h1v7h-1zM1015 273h1v14h-1zM1019 258h3v7h-3zM1020 255h1v3h-1zM1020 265h1v2h-1zM1027 260h3v3h-3zM1028 259h1v1h-1zM1028 263h1v7h-1zM1035 250h3v29h-3zM1036 244h1v6h-1zM1036 279h1v1h-1zM1052 273h3v13h-3zM1053 270h1v3h-1zM1053 286h1v1h-1zM1060 279h3v11h-3zM1061 274h1v5h-1zM1061 290h1v13h-1zM1081 376h3v14h-3zM1082 366h1v10h-1zM1082 390h1v2h-1zM1085 350h3v26h-3zM1086 348h1v2h-1zM1086 376h1v2h-1zM1089 287h3v63h-3zM1090 273h1v14h-1zM1090 350h1v3h-1zM1097 274h3v28h-3zM1098 259h1v15h-1zM1098 302h1v2h-1zM1106 285h3v2h-3zM1107 282h1v3h-1zM1107 287h1v24h-1zM1114 244h3v50h-3zM1115 238h1v6h-1zM1115 294h1v4h-1zM1118 241h3v3h-3zM1119 233h1v8h-1zM1119 244h1v2h-1zM1130 227h3v20h-3zM1131 223h1v4h-1zM1131 247h1v6h-1zM1135 206h3v21h-3zM1136 196h1v10h-1zM1136 227h1v9h-1zM1168 271h3v16h-3zM1169 259h1v12h-1zM1169 287h1v1h-1zM1180 268h3v11h-3zM1181 265h1v3h-1zM1181 279h1v5h-1zM1184 259h3v9h-3zM1185 250h1v9h-1zM1185 268h1v1h-1zM1205 298h3v7h-3zM1206 296h1v2h-1zM1206 305h1v5h-1zM1209 295h3v3h-3zM1210 286h1v9h-1zM1210 298h1v2h-1zM1238 321h3v17h-3zM1239 312h1v9h-1zM1239 338h1v5h-1zM1242 292h3v29h-3zM1243 285h1v7h-1zM1243 321h1v3h-1zM1246 270h3v22h-3zM1247 259h1v11h-1zM1247 292h1v2h-1zM1250 263h3v7h-3zM1251 260h1v3h-1zM1251 270h1v3h-1zM1255 262h3v1h-3zM1256 257h1v5h-1zM1256 263h1v7h-1zM1259 258h3v4h-3zM1260 255h1v3h-1zM1260 262h1v7h-1zM1271 263h3v11h-3zM1272 239h1v24h-1zM1272 274h1v21h-1zM1275 262h3v1h-3zM1276 258h1v4h-1zM1276 263h1v3h-1zM1279 244h3v18h-3zM1280 241h1v3h-1zM1280 262h1v1h-1zM1284 221h3v23h-3zM1285 216h1v5h-1zM1285 244h1v2h-1zM1292 212h3v34h-3zM1293 209h1v3h-1zM1293 246h1v14h-1zM1296 203h3v9h-3zM1297 198h1v5h-1zM1297 212h1v2h-1zM1300 184h3v19h-3zM1301 180h1v4h-1zM1301 203h1v2h-1zM1308 185h3v5h-3zM1309 178h1v7h-1zM1309 190h1v4h-1zM1313 172h3v13h-3zM1314 160h1v12h-1zM1314 185h1v1h-1zM1317 148h3v24h-3zM1318 139h1v9h-1zM1318 172h1v7h-1zM1333 164h3v8h-3zM1334 159h1v5h-1zM1334 172h1v2h-1zM1337 162h3v2h-3zM1338 160h1v2h-1zM1338 164h1v8h-1zM1342 158h3v4h-3zM1343 155h1v3h-1zM1343 162h1v8h-1zM1346 155h3v3h-3zM1347 153h1v2h-1zM1347 158h1v12h-1zM1350 141h3v14h-3zM1351 136h1v5h-1zM1351 155h1v2h-1zM1362 150h3v8h-3zM1363 145h1v5h-1zM1363 158h1v6h-1zM1370 149h3v10h-3zM1371 145h1v4h-1zM1371 159h1v13h-1zM1379 143h3v19h-3zM1380 132h1v11h-1zM1380 162h1v1h-1zM1387 147h3v2h-3zM1388 135h1v12h-1zM1388 149h1v3h-1zM1395 167h3v3h-3zM1396 155h1v12h-1zM1396 170h1v4h-1zM1408 165h3v7h-3zM1409 163h1v2h-1zM1412 163h3v2h-3zM1413 162h1v1h-1zM1413 165h1v2h-1zM1416 154h3v9h-3zM1417 146h1v8h-1zM1417 163h1v2h-1zM1420 132h3v22h-3zM1421 130h1v2h-1zM1421 154h1v2h-1zM1424 111h3v21h-3zM1425 110h1v1h-1zM1425 132h1v6h-1zM1433 111h3v1h-3zM1434 109h1v2h-1zM1434 112h1v11h-1zM1457 126h3v13h-3zM1458 120h1v6h-1zM1458 139h1v1h-1zM1462 103h3v23h-3zM1463 98h1v5h-1zM1463 126h1v2h-1zM1478 136h3v11h-3zM1479 126h1v10h-1zM1479 147h1v1h-1zM1486 137h3v12h-3zM1487 136h1v1h-1zM1487 149h1v1h-1zM1495 124h3v27h-3zM1496 122h1v2h-1zM1496 151h1v4h-1zM1499 121h3v3h-3zM1500 106h1v15h-1zM1500 124h1v4h-1zM1503 111h3v10h-3zM1504 108h1v3h-1zM1504 121h1v11h-1zM1507 109h3v2h-3zM1508 107h1v2h-1zM1508 111h1v5h-1zM1520 122h3v6h-3zM1521 116h1v6h-1zM1521 128h1v3h-1z" fill="#26824f" shape-rendering="crispEdges"/>
<path d="M0 112h3v6h-3zM1 109h1v3h-1zM1 118h1v15h-1zM13 108h3v12h-3zM14 107h1v1h-1zM14 120h1v4h-1zM21 104h3v1h-3zM22 94h1v10h-1zM22 105h1v35h-1zM29 84h3v11h-3zM30 76h1v8h-1zM30 95h1v5h-1zM54 51h3v1h-3zM55 47h1v4h-1zM55 52h1v6h-1zM62 50h3v6h-3zM63 48h1v2h-1zM63 56h1v8h-1zM75 44h3v17h-3zM76 18h1v26h-1zM76 61h1v11h-1zM79 61h3v7h-3zM80 52h1v9h-1zM80 68h1v8h-1zM91 58h3v17h-3zM108 26h3v29h-3zM109 23h1v3h-1zM109 55h1v3h-1zM112 55h3v3h-3zM113 52h1v3h-1zM113 58h1v2h-1zM116 58h3v2h-3zM117 54h1v4h-1zM117 60h1v2h-1zM120 60h3v1h-3zM121 48h1v12h-1zM121 61h1v3h-1zM128 50h3v17h-3zM129 48h1v2h-1zM129 67h1v8h-1zM141 38h3v4h-3zM142 35h1v3h-1zM142 42h1v1h-1zM145 42h3v27h-3zM146 69h1v1h-1zM170 46h3v2h-3zM171 31h1v15h-1zM171 48h1v1h-1zM174 48h3v15h-3zM175 44h1v4h-1zM175 63h1v3h-1zM178 63h3v35h-3zM179 61h1v2h-1zM179 98h1v12h-1zM182 98h3v14h-3zM183 78h1v20h-1zM191 107h3v12h-3zM192 105h1v2h-1zM192 119h1v2h-1zM195 119h3v23h-3zM196 115h1v4h-1zM196 142h1v4h-1zM203 129h3v22h-3zM204 113h1v16h-1zM204 151h1v3h-1zM236 97h3v6h-3zM237 92h1v5h-1zM237 103h1v2h-1zM244 98h3v5h-3zM245 92h1v6h-1zM245 103h1v1h-1zM265 82h3v3h-3zM266 78h1v4h-1zM266 85h1v3h-1zM269 85h3v9h-3zM270 81h1v4h-1zM273 94h3v4h-3zM274 72h1v22h-1zM274 98h1v2h-1zM282 86h3v10h-3zM283 78h1v8h-1zM283 96h1v4h-1zM286 96h3v68h-3zM287 78h1v18h-1zM287 164h1v1h-1zM290 164h3v19h-3zM291 183h1v2h-1zM307 138h3v57h-3zM308 195h1v2h-1zM311 195h3v31h-3zM312 185h1v10h-1zM312 226h1v2h-1zM315 226h3v5h-3zM316 220h1v6h-1zM316 231h1v2h-1zM319 231h3v12h-3zM320 230h1v1h-1zM320 243h1v2h-1zM340 160h3v18h-3zM341 156h1v4h-1zM344 178h3v2h-3zM345 176h1v2h-1zM345 180h1v6h-1zM352 174h3v15h-3zM353 169h1v5h-1zM353 189h1v2h-1zM356 189h3v17h-3zM357 172h1v17h-1zM360 206h3v11h-3zM361 205h1v1h-1zM361 217h1v3h-1zM369 204h3v4h-3zM370 200h1v4h-1zM370 208h1v2h-1zM373 208h3v1h-3zM374 199h1v9h-1zM374 209h1v2h-1zM389 201h3v7h-3zM390 197h1v4h-1zM390 208h1v7h-1zM398 196h3v4h-3zM399 188h1v8h-1zM399 200h1v2h-1zM406 197h3v12h-3zM407 195h1v2h-1zM407 209h1v3h-1zM414 208h3v14h-3zM415 222h1v4h-1zM427 208h3v4h-3zM428 206h1v2h-1zM428 212h1v4h-1zM447 172h3v3h-3zM448 175h1v3h-1zM468 161h3v59h-3zM469 155h1v6h-1zM469 220h1v4h-1zM489 185h3v16h-3zM490 180h1v5h-1zM490 201h1v4h-1zM493 201h3v9h-3zM494 192h1v9h-1zM494 210h1v2h-1zM497 210h3v12h-3zM498 222h1v2h-1zM514 204h3v10h-3zM515 201h1v3h-1zM515 214h1v2h-1zM518 214h3v47h-3zM519 213h1v1h-1zM519 261h1v12h-1zM522 261h3v54h-3zM523 257h1v4h-1zM523 315h1v2h-1zM526 315h3v5h-3zM527 310h1v5h-1zM527 320h1v8h-1zM547 292h3v3h-3zM548 290h1v2h-1zM548 295h1v10h-1zM555 277h3v2h-3zM556 276h1v1h-1zM556 279h1v1h-1zM559 279h3v1h-3zM560 274h1v5h-1zM560 280h1v6h-1zM576 198h3v26h-3zM577 193h1v5h-1zM577 224h1v26h-1zM584 220h3v2h-3zM585 212h1v8h-1zM585 222h1v1h-1zM596 192h3v9h-3zM597 176h1v16h-1zM597 201h1v4h-1zM600 201h3v30h-3zM601 195h1v6h-1zM601 231h1v11h-1zM605 231h3v5h-3zM606 224h1v7h-1zM606 236h1v4h-1zM609 236h3v10h-3zM610 232h1v4h-1zM610 246h1v2h-1zM617 242h3v9h-3zM618 232h1v10h-1zM618 251h1v1h-1zM621 251h3v65h-3zM622 247h1v4h-1zM622 316h1v32h-1zM625 316h3v21h-3zM626 314h1v2h-1zM626 337h1v13h-1zM638 326h3v10h-3zM639 322h1v4h-1zM639 336h1v1h-1zM642 336h3v59h-3zM643 335h1v1h-1zM643 395h1v3h-1zM658 359h3v9h-3zM659 356h1v3h-1zM659 368h1v1h-1zM667 365h3v8h-3zM668 363h1v2h-1zM668 373h1v15h-1zM675 364h3v51h-3zM676 350h1v14h-1zM676 415h1v25h-1zM679 415h3v13h-3zM680 428h1v8h-1zM683 428h3v2h-3zM684 426h1v2h-1zM684 430h1v3h-1zM687 430h3v2h-3zM688 427h1v3h-1zM688 432h1v2h-1zM692 432h3v42h-3zM693 430h1v2h-1zM693 474h1v4h-1zM696 474h3v4h-3zM697 462h1v12h-1zM697 478h1v10h-1zM700 478h3v19h-3zM701 453h1v25h-1zM701 497h1v4h-1zM716 412h3v16h-3zM717 411h1v1h-1zM717 428h1v10h-1zM725 426h3v25h-3zM726 403h1v23h-1zM726 451h1v2h-1zM741 426h3v5h-3zM742 425h1v1h-1zM742 431h1v6h-1zM758 394h3v20h-3zM759 392h1v2h-1zM759 414h1v24h-1zM766 405h3v11h-3zM767 401h1v4h-1zM767 416h1v4h-1zM770 416h3v5h-3zM771 412h1v4h-1zM771 421h1v7h-1zM774 421h3v7h-3zM775 419h1v2h-1zM775 428h1v13h-1zM787 411h3v1h-3zM788 403h1v8h-1zM788 412h1v3h-1zM791 411h3v1h-3zM792 404h1v7h-1zM792 412h1v3h-1zM795 412h3v41h-3zM796 453h1v7h-1zM807 435h3v22h-3zM808 433h1v2h-1zM808 457h1v1h-1zM828 424h3v7h-3zM829 420h1v4h-1zM829 431h1v27h-1zM841 341h3v3h-3zM842 335h1v6h-1zM842 344h1v7h-1zM845 344h3v25h-3zM846 334h1v10h-1zM846 369h1v31h-1zM849 369h3v20h-3zM850 360h1v9h-1zM850 389h1v7h-1zM853 389h3v21h-3zM854 385h1v4h-1zM854 410h1v4h-1zM870 339h3v6h-3zM871 328h1v11h-1zM871 345h1v2h-1zM874 345h3v9h-3zM875 332h1v13h-1zM875 354h1v3h-1zM882 327h3v27h-3zM883 318h1v9h-1zM883 354h1v4h-1zM890 348h3v9h-3zM891 345h1v3h-1zM891 357h1v4h-1zM899 354h3v9h-3zM900 350h1v4h-1zM900 363h1v6h-1zM915 324h3v5h-3zM916 321h1v3h-1zM916 329h1v4h-1zM923 300h3v7h-3zM924 284h1v16h-1zM924 307h1v6h-1zM936 238h3v3h-3zM937 227h1v11h-1zM937 241h1v1h-1zM944 237h3v21h-3zM945 258h1v1h-1zM948 258h3v2h-3zM949 252h1v6h-1zM949 260h1v8h-1zM952 260h3v18h-3zM953 255h1v5h-1zM953 278h1v1h-1zM961 230h3v17h-3zM962 211h1v19h-1zM962 247h1v1h-1zM969 234h3v36h-3zM970 228h1v6h-1zM970 270h1v3h-1zM977 269h3v2h-3zM978 260h1v9h-1zM978 271h1v3h-1zM981 271h3v8h-3zM982 258h1v13h-1zM982 279h1v1h-1zM994 266h3v4h-3zM995 265h1v1h-1zM995 270h1v2h-1zM1006 262h3v23h-3zM1007 258h1v4h-1zM1007 285h1v5h-1zM1023 258h3v5h-3zM1024 255h1v3h-1zM1024 263h1v2h-1zM1031 260h3v19h-3zM1032 254h1v6h-1zM1032 279h1v1h-1zM1039 250h3v7h-3zM1040 248h1v2h-1zM1040 257h1v8h-1zM1043 257h3v28h-3zM1044 252h1v5h-1zM1044 285h1v7h-1zM1048 285h3v1h-3zM1049 275h1v10h-1zM1049 286h1v5h-1zM1056 273h3v17h-3zM1057 270h1v3h-1zM1057 290h1v6h-1zM1064 279h3v18h-3zM1065 248h1v31h-1zM1065 297h1v9h-1zM1068 297h3v1h-3zM1069 290h1v7h-1zM1069 298h1v8h-1zM1072 298h3v74h-3zM1073 296h1v2h-1zM1073 372h1v4h-1zM1077 372h3v18h-3zM1078 390h1v3h-1zM1093 287h3v15h-3zM1094 273h1v14h-1zM1094 302h1v8h-1zM1101 274h3v13h-3zM1102 270h1v4h-1zM1102 287h1v3h-1zM1110 285h3v9h-3zM1111 271h1v14h-1zM1111 294h1v1h-1zM1122 241h3v5h-3zM1123 236h1v5h-1zM1123 246h1v1h-1zM1126 246h3v1h-3zM1127 234h1v12h-1zM1127 247h1v2h-1zM1139 206h3v11h-3zM1140 197h1v9h-1zM1140 217h1v2h-1zM1143 217h3v8h-3zM1144 212h1v5h-1zM1144 225h1v1h-1zM1147 225h3v2h-3zM1148 222h1v3h-1zM1148 227h1v2h-1zM1151 227h3v6h-3zM1152 222h1v5h-1zM1152 233h1v2h-1zM1155 233h3v14h-3zM1156 230h1v3h-1zM1156 247h1v1h-1zM1159 247h3v35h-3zM1160 245h1v2h-1zM1160 282h1v9h-1zM1163 282h3v5h-3zM1164 276h1v6h-1zM1164 287h1v36h-1zM1172 271h3v3h-3zM1173 269h1v2h-1zM1173 274h1v1h-1zM1176 274h3v5h-3zM1177 268h1v6h-1zM1177 279h1v2h-1zM1188 259h3v21h-3zM1189 233h1v26h-1zM1189 280h1v21h-1zM1192 280h3v7h-3zM1193 279h1v1h-1zM1193 287h1v26h-1zM1197 287h3v5h-3zM1198 285h1v2h-1zM1198 292h1v5h-1zM1201 292h3v13h-3zM1202 291h1v1h-1zM1202 305h1v9h-1zM1213 295h3v1h-3zM1214 282h1v13h-1zM1214 296h1v6h-1zM1218 296h3v7h-3zM1219 293h1v3h-1zM1219 303h1v8h-1zM1221 303h3v18h-3zM1222 298h1v5h-1zM1222 321h1v1h-1zM1226 321h3v3h-3zM1227 316h1v5h-1zM1227 324h1v4h-1zM1230 324h3v5h-3zM1231 322h1v2h-1zM1231 329h1v4h-1zM1234 329h3v9h-3zM1235 321h1v8h-1zM1235 338h1v1h-1zM1263 258h3v2h-3zM1264 252h1v6h-1zM1264 260h1v13h-1zM1267 260h3v14h-3zM1268 255h1v5h-1zM1268 274h1v38h-1zM1288 221h3v25h-3zM1289 220h1v1h-1zM1289 246h1v2h-1zM1304 184h3v6h-3zM1305 182h1v2h-1zM1305 190h1v1h-1zM1321 148h3v15h-3zM1322 145h1v3h-1zM1322 163h1v2h-1zM1325 163h3v6h-3zM1326 161h1v2h-1zM1326 169h1v2h-1zM1329 169h3v3h-3zM1330 165h1v4h-1zM1330 172h1v4h-1zM1354 141h3v5h-3zM1355 140h1v1h-1zM1355 146h1v1h-1zM1358 146h3v12h-3zM1359 144h1v2h-1zM1359 158h1v3h-1zM1366 150h3v9h-3zM1367 144h1v6h-1zM1367 159h1v5h-1zM1375 149h3v13h-3zM1376 146h1v3h-1zM1376 162h1v2h-1zM1383 143h3v6h-3zM1384 141h1v2h-1zM1384 149h1v4h-1zM1391 147h3v23h-3zM1392 139h1v8h-1zM1392 170h1v6h-1zM1399 167h3v3h-3zM1400 166h1v1h-1zM1400 170h1v15h-1zM1404 170h3v2h-3zM1405 169h1v1h-1zM1405 172h1v2h-1zM1428 111h3v1h-3zM1429 109h1v2h-1zM1429 112h1v4h-1zM1437 111h3v1h-3zM1438 106h1v5h-1zM1438 112h1v9h-1zM1441 112h3v18h-3zM1442 110h1v2h-1zM1442 130h1v1h-1zM1445 130h3v4h-3zM1446 113h1v17h-1zM1446 134h1v5h-1zM1449 134h3v5h-3zM1450 126h1v8h-1zM1450 139h1v3h-1zM1453 139h3v1h-3zM1454 136h1v3h-1zM1466 103h3v27h-3zM1467 102h1v1h-1zM1467 130h1v3h-1zM1470 130h3v3h-3zM1471 121h1v9h-1zM1471 133h1v8h-1zM1474 133h3v14h-3zM1475 126h1v7h-1zM1475 147h1v4h-1zM1482 136h3v13h-3zM1483 135h1v1h-1zM1483 149h1v1h-1zM1491 137h3v14h-3zM1492 136h1v1h-1zM1492 151h1v1h-1zM1511 109h3v18h-3zM1512 106h1v3h-1zM1512 127h1v1h-1zM1515 127h3v1h-3zM1516 121h1v6h-1zM1516 128h1v8h-1z" fill="#e60000" shape-rendering="crispEdges"/>
<path d="M0 84.5H1563" stroke="#171b26" stroke-width="3" stroke-dasharray="3 6" fill="none" shape-rendering="crispEdges"/>
<path d="M0 160.5H1563" stroke="#171b26" stroke-width="3" stroke-dasharray="3 6" fill="none" shape-rendering="crispEdges"/>
<path d="M0 462.5H1563" stroke="#171b26" stroke-width="3" stroke-dasharray="3 6" fill="none" shape-rendering="crispEdges"/>
<path d="M0 122.5H1563" stroke="#26824f" stroke-width="1" stroke-dasharray="1 2" fill="none" shape-rendering="crispEdges"/>
</g>
<rect x="0" y="0" width="1625" height="1" fill="#e0e3eb"/>
<rect x="0" y="522" width="1625" height="1" fill="#e0e3eb"/>
<rect x="0" y="759" width="1625" height="1" fill="#e0e3eb"/>
<g clip-path="url(#cr)">
<rect x="0" y="560.5" width="1564" height="119" fill="#7e57c2" fill-opacity="0.1"/>
<path d="M0 560.5H1564" stroke="#787b86" stroke-width="1" stroke-dasharray="5 6" fill="none" shape-rendering="crispEdges"/>
<path d="M0 620.5H1564" stroke="#787b86" stroke-width="1" stroke-dasharray="5 6" fill="none" shape-rendering="crispEdges"/>
<path d="M0 679.5H1564" stroke="#787b86" stroke-width="1" stroke-dasharray="5 6" fill="none" shape-rendering="crispEdges"/>
<path d="M0 606.6L8.7 599.4L13.9 612.4L17.9 597.4L21.7 598.8L26 583.5L30.4 589.6L34.1 589.6L38.4 584.4L43.4 573.7L47.1 571.9L51.2 560.4L54.9 559.8L58.7 558.9L63 569.1L67.1 561.8L71.7 558.9L75.7 588.1L80.1 597.4L83.8 593.9L88.2 587.3L91.9 611.3L96.3 585.8L100.6 583.8L104.9 568.5L109 602.6L112.7 606.1L116.5 607.5L120.8 612.4L124.9 600.3L128.9 616.2L133.5 594.5L137.6 591L141.6 596.8L146 625.4L149.7 623.4L154.1 617.6L157.8 616.7L162.5 602.6L166.5 602.3L170.5 605.2L174.3 620.5L178.6 655.8L182.7 665.3L187 659.5L191.4 667.3L195.7 681.8L199.7 665.9L203.8 678.3L207.5 676.3L211.9 674L216.2 666.8L221.1 661.6L224.9 661L228.9 646.5L232.7 612.4L237 617L241.1 612.7L245.1 618.2L250 606.9L253.8 606.1L257.8 598.2L261.6 597.7L265.9 598.2L270 611.8L274 617.6L278.7 603.2L282.7 617.6L286.7 678.3L290.8 687L294.8 669.6L299.2 649.4L302.9 638.7L307.3 669.6L311.6 682.7L315.7 685L320 689.3L323.7 674L327.8 672L331.8 650.9L335.9 621.4L340.5 630.6L344.6 632.1L348.9 628.6L352.6 637L357 647.4L360.7 653.7L365.1 643.1L369.4 644.2L374.3 645.1L381.6 643.6L385.9 638.7L390.2 643.1L394.6 637.3L398.9 634.1L402.9 631.5L406.9 642.2L411 642.8L415 656.6L419.1 641.6L423.1 638.7L427.5 640.2L431.8 635.5L435.8 614.7L439.9 594.5L443.9 590.7L448 592.5L452 595.4L456.4 593.6L460.7 593L465 577.1L468.8 652.3L472.8 628.6L476.9 624.8L480.9 622L485.6 615.3L489.6 630.6L493.9 639.9L498 650L502 648.5L505.5 641.3L509.8 626.3L515 637.3L518.5 668.2L522.8 696.5L527.2 698.3L531.2 688.4L535 678.3L538.7 673.4L543.1 668.2L547.4 668.8L551.8 650L555.5 650.3L559.8 651.7L563.9 641.3L567.9 627.7L572 578L576.3 600.6L580.7 598.8L585 600.6L589.3 589.3L593.1 580.9L597.1 590.2L601.2 616.2L605.2 619.9L609.9 627.7L613.9 626.3L617.9 632.1L622 672L626 680.6L630.1 671.7L634.7 671.1L638.8 676.3L642.8 697.7L646.6 680.3L650.6 671.1L654.9 666.8L659.3 670.2L663.6 668.8L667.7 672.5L671.7 663.3L675.8 686.1L679.8 691.3L683.9 691.9L687.9 693.3L692.5 706.4L696.6 707.8L700.9 713.3L705 682.7L709 672.5L712.8 637.3L717.1 645.7L721.4 645.1L725.8 656.6L729.8 644.5L733.9 644.2L737.9 637.8L742 641.3L746 624.3L750 628.6L755 611.3L759 625.4L763.1 619.1L767.1 627.2L771.1 631.5L775.2 635.5L779.2 621.1L783.3 620.5L787.6 620.8L792 622L796 653.7L800.1 639.3L803.8 638.4L807.8 652.6L812.1 650.9L816.5 647.4L820.5 626.9L824.9 619.6L828.9 625.4L832.7 582.1L836.7 566.5L841.9 569.3L845.7 591.6L849.7 606.6L853.8 622L857.8 596.8L861.9 586.7L865.9 583.5L870.8 586.7L874.9 593.9L878.9 580.9L883 600.6L887 598L891.1 603.7L895.1 603.7L899.7 609.2L904.1 607.5L908.1 599.4L912.2 583.5L916.2 587.3L920.2 571.7L924.3 576.3L928.6 566.5L933 546.2L937 546.2L941.1 546.2L945.1 566.5L949.2 568.8L953.2 586.4L957.2 563.6L961.9 577.1L965.9 572.2L970 593.9L974 599.7L978.1 602.3L982.1 608.1L986.4 604.6L990.8 599.7L994.8 601.7L998.9 598L1002.9 597.4L1007 618.2L1011 609.5L1015.1 602.6L1019.7 596.8L1024 599.4L1028.1 599.4L1032.1 618.5L1036.2 593.9L1040.2 600.3L1044.3 625.4L1048.6 628.3L1052.6 616.2L1056.7 632.1L1060.7 621.1L1065.1 636.4L1069.1 637L1073.2 680.3L1078.1 687.9L1082.1 674L1086.2 650.9L1089.9 611.3L1094 618.2L1098 604.6L1102.1 612.1L1106.4 611.8L1111 616.7L1115.1 590.7L1119.1 588.7L1123.2 591.9L1127.2 592.5L1131.3 582.9L1135.9 572.8L1139.9 580.6L1144 588.7L1148 591L1152.1 595.4L1156.1 607.5L1160.2 632.9L1164.2 637L1168.8 625.1L1172.9 625.7L1176.9 629.2L1181 621.4L1184.6 614.1L1188.7 630.6L1193 636.4L1197.3 639.9L1202 649.1L1206 643.6L1210.1 637.8L1214.1 639.3L1218.2 646.5L1222.2 659L1226.2 662.4L1230.6 665.9L1234.9 673.4L1239 648L1243 617.6L1247.1 599.4L1251.4 593L1255.7 593.3L1260.1 589.6L1264.1 590.4L1268.2 608.4L1272.2 600.8L1276.3 598.2L1280.3 582.9L1284.9 566.5L1289 594.2L1293 573.4L1297.1 568.2L1301.1 558.4L1305.2 563L1309.2 561.2L1313.5 555.5L1317.9 543.6L1321.9 561.8L1326 568.8L1330 570.5L1334.1 567.6L1338.4 565.6L1342.5 563.3L1346.8 561.2L1350.8 551.7L1354.9 558.9L1358.9 576.6L1363 571.4L1367 584.4L1371.1 576.6L1375.7 592.5L1380 578L1384.1 585L1388.1 584.4L1392.2 612.7L1396.2 609.2L1400.3 613.9L1404.6 614.7L1408.9 607.5L1413 604L1417 593.6L1421.1 574.3L1425.1 559.2L1429.2 559.8L1433.8 559.5L1437.8 560.7L1441.9 588.7L1445.9 595.4L1450 602.3L1454 603.2L1458.4 585.8L1463 568.2L1466.7 603.2L1470.8 607.5L1474.8 622.5L1478.9 613.3L1482.9 625.1L1487 613.3L1491.9 627.7L1495.9 600.8L1500 600.3L1504 591L1508.1 589.6L1512.1 608.1L1516.2 609.2L1520.8 604.9" stroke="#7e57c2" stroke-width="1.1" fill="none" stroke-linejoin="round"/>
</g>
<text x="1572.5" y="27.3" font-size="12" fill="#3b3b3f" textLength="41.3" lengthAdjust="spacingAndGlyphs">1.28000</text>
<text x="1572.5" y="61.6" font-size="12" fill="#3b3b3f" textLength="41.3" lengthAdjust="spacingAndGlyphs">1.27500</text>
<text x="1572.5" y="95.9" font-size="12" fill="#3b3b3f" textLength="41.3" lengthAdjust="spacingAndGlyphs">1.27000</text>
<text x="1572.5" y="130.2" font-size="12" fill="#3b3b3f" textLength="41.3" lengthAdjust="spacingAndGlyphs">1.26500</text>
<text x="1572.5" y="164.4" font-size="12" fill="#3b3b3f" textLength="41.3" lengthAdjust="spacingAndGlyphs">1.26000</text>
<text x="1572.5" y="198.7" font-size="12" fill="#3b3b3f" textLength="41.3" lengthAdjust="spacingAndGlyphs">1.25500</text>
<text x="1572.5" y="233" font-size="12" fill="#3b3b3f" textLength="41.3" lengthAdjust="spacingAndGlyphs">1.25000</text>
<text x="1572.5" y="267.3" font-size="12" fill="#3b3b3f" textLength="41.3" lengthAdjust="spacingAndGlyphs">1.24500</text>
<text x="1572.5" y="301.6" font-size="12" fill="#3b3b3f" textLength="41.3" lengthAdjust="spacingAndGlyphs">1.24000</text>
<text x="1572.5" y="335.9" font-size="12" fill="#3b3b3f" textLength="41.3" lengthAdjust="spacingAndGlyphs">1.23500</text>
<text x="1572.5" y="370.2" font-size="12" fill="#3b3b3f" textLength="41.3" lengthAdjust="spacingAndGlyphs">1.23000</text>
<text x="1572.5" y="404.4" font-size="12" fill="#3b3b3f" textLength="41.3" lengthAdjust="spacingAndGlyphs">1.22500</text>
<text x="1572.5" y="438.7" font-size="12" fill="#3b3b3f" textLength="41.3" lengthAdjust="spacingAndGlyphs">1.22000</text>
<text x="1572.5" y="473" font-size="12" fill="#3b3b3f" textLength="41.3" lengthAdjust="spacingAndGlyphs">1.21500</text>
<text x="1572.5" y="507.3" font-size="12" fill="#3b3b3f" textLength="41.3" lengthAdjust="spacingAndGlyphs">1.21000</text>
<text x="1572.5" y="534.8" font-size="12" fill="#3b3b3f" textLength="29.5" lengthAdjust="spacingAndGlyphs">80.00</text>
<text x="1572.5" y="593.8" font-size="12" fill="#3b3b3f" textLength="29.5" lengthAdjust="spacingAndGlyphs">60.00</text>
<text x="1572.5" y="654.3" font-size="12" fill="#3b3b3f" textLength="29.5" lengthAdjust="spacingAndGlyphs">40.00</text>
<text x="1572.5" y="712.8" font-size="12" fill="#3b3b3f" textLength="29.5" lengthAdjust="spacingAndGlyphs">20.00</text>
<rect x="1564" y="76" width="56" height="17" rx="2" fill="#2a2e39"/>
<text x="1572.5" y="88.8" font-size="12" font-weight="bold" fill="#ffffff" textLength="41.3" lengthAdjust="spacingAndGlyphs">1.27105</text>
<rect x="1564" y="114" width="56" height="17" rx="2" fill="#26824f"/>
<text x="1572.5" y="126.8" font-size="12" font-weight="bold" fill="#ffffff" textLength="41.3" lengthAdjust="spacingAndGlyphs">1.26553</text>
<rect x="1564" y="131" width="56" height="17" rx="2" fill="#f23645"/>
<text x="1572.5" y="143.8" font-size="12" font-weight="bold" fill="#ffffff" textLength="41.3" lengthAdjust="spacingAndGlyphs">1.26439</text>
<rect x="1564" y="148" width="56" height="17" rx="2" fill="#fbc02d"/>
<text x="1572.5" y="160.8" font-size="12" font-weight="bold" fill="#131722" textLength="41.3" lengthAdjust="spacingAndGlyphs">1.26251</text>
<rect x="1564" y="165" width="56" height="17" rx="2" fill="#2a2e39"/>
<text x="1572.5" y="177.8" font-size="12" font-weight="bold" fill="#ffffff" textLength="41.3" lengthAdjust="spacingAndGlyphs">1.25997</text>
<rect x="1564" y="193.5" width="56" height="16.5" rx="2" fill="#4caf50"/>
<text x="1572.5" y="206.1" font-size="12" font-weight="bold" fill="#ffffff" textLength="41.3" lengthAdjust="spacingAndGlyphs">1.25392</text>
<rect x="1564" y="265.5" width="56" height="15.5" rx="2" fill="#2962ff"/>
<text x="1572.5" y="277.6" font-size="12" font-weight="bold" fill="#ffffff" textLength="41.3" lengthAdjust="spacingAndGlyphs">1.24343</text>
<rect x="1564" y="455" width="56" height="16.5" rx="2" fill="#2a2e39"/>
<text x="1572.5" y="467.6" font-size="12" font-weight="bold" fill="#ffffff" textLength="41.3" lengthAdjust="spacingAndGlyphs">1.21597</text>
<rect x="1564" y="597" width="43" height="16.5" rx="2" fill="#7e57c2"/>
<text x="1572.5" y="609.5" font-size="12" font-weight="bold" fill="#ffffff" textLength="29.5" lengthAdjust="spacingAndGlyphs">55.00</text>
<text x="88.5" y="748.8" font-size="12" fill="#3b3b3f" text-anchor="middle">8</text>
<text x="192.5" y="748.8" font-size="12" fill="#3b3b3f" text-anchor="middle">13</text>
<text x="295.5" y="748.8" font-size="12" fill="#3b3b3f" text-anchor="middle">19</text>
<text x="399.5" y="748.8" font-size="12" fill="#3b3b3f" text-anchor="middle">25</text>
<text x="506.5" y="748.8" font-size="12" fill="#3b3b3f" text-anchor="middle" font-weight="bold">2025</text>
<text x="589.5" y="748.8" font-size="12" fill="#3b3b3f" text-anchor="middle">7</text>
<text x="688.5" y="748.8" font-size="12" fill="#3b3b3f" text-anchor="middle">12</text>
<text x="792.5" y="748.8" font-size="12" fill="#3b3b3f" text-anchor="middle">17</text>
<text x="895.5" y="748.8" font-size="12" fill="#3b3b3f" text-anchor="middle">23</text>
<text x="986.5" y="748.8" font-size="12" fill="#3b3b3f" text-anchor="middle">12:00</text>
<text x="1073.5" y="748.8" font-size="12" fill="#3b3b3f" text-anchor="middle">Feb</text>
<text x="1177" y="748.8" font-size="12" fill="#3b3b3f" text-anchor="middle">7</text>
<text x="1280.5" y="748.8" font-size="12" fill="#3b3b3f" text-anchor="middle">13</text>
<text x="1384" y="748.8" font-size="12" fill="#3b3b3f" text-anchor="middle">19</text>
<text x="1487.5" y="748.8" font-size="12" fill="#3b3b3f" text-anchor="middle">25</text>
<path d="M1602.2 745.8L1598.6 752L1591.4 752L1587.8 745.8L1591.4 739.6L1598.6 739.6Z" stroke="#2a2e39" stroke-width="1.3" fill="none" stroke-linejoin="round"/>
<circle cx="1595" cy="745.8" r="2" stroke="#2a2e39" stroke-width="1.3" fill="none"/>
<rect x="4" y="5" width="539" height="24" rx="2" fill="#ffffff" fill-opacity="0.5"/>
<rect x="4" y="29.5" width="143" height="24" rx="2" fill="#ffffff" fill-opacity="0.5"/>
<rect x="4" y="54" width="143" height="24" rx="2" fill="#ffffff" fill-opacity="0.5"/>
<rect x="4" y="78" width="150" height="24" rx="2" fill="#ffffff" fill-opacity="0.5"/>
<rect x="4" y="102" width="150" height="24" rx="2" fill="#ffffff" fill-opacity="0.5"/>
<text x="9.3" y="22.8" font-size="16" fill="#3c3f47" textLength="130" lengthAdjust="spacingAndGlyphs">GBP/USD Spot · 4h</text>
<circle cx="164" cy="17" r="9" fill="#089981" fill-opacity="0.2"/>
<circle cx="164" cy="17" r="4" fill="#089981"/>
<text x="188.6" y="22" font-size="13" fill="#3c3f47">O</text>
<text x="198.9" y="22" font-size="13" fill="#26824f" textLength="44.5" lengthAdjust="spacingAndGlyphs">1.26483</text>
<text x="250.6" y="22" font-size="13" fill="#3c3f47">H</text>
<text x="261" y="22" font-size="13" fill="#26824f" textLength="44.5" lengthAdjust="spacingAndGlyphs">1.26647</text>
<text x="311.9" y="22" font-size="13" fill="#3c3f47">L</text>
<text x="319.1" y="22" font-size="13" fill="#26824f" textLength="44.5" lengthAdjust="spacingAndGlyphs">1.26421</text>
<text x="370.8" y="22" font-size="13" fill="#3c3f47">C</text>
<text x="379.9" y="22" font-size="13" fill="#26824f" textLength="44.5" lengthAdjust="spacingAndGlyphs">1.26553</text>
<text x="431.5" y="22" font-size="13" fill="#26824f" textLength="51.7" lengthAdjust="spacingAndGlyphs">+0.00070</text>
<text x="488.4" y="22" font-size="13" fill="#26824f" textLength="47.8" lengthAdjust="spacingAndGlyphs">(+0.06%)</text>
<text x="8.6" y="45.9" font-size="13" fill="#3c3f47" textLength="78.2" lengthAdjust="spacingAndGlyphs">MA 20 close 0</text>
<text x="97" y="45.9" font-size="13" fill="#f23645" textLength="43.8" lengthAdjust="spacingAndGlyphs">1.26439</text>
<text x="8.6" y="69.9" font-size="13" fill="#3c3f47" textLength="78.2" lengthAdjust="spacingAndGlyphs">MA 50 close 0</text>
<text x="97" y="69.9" font-size="13" fill="#f9b92e" textLength="43.8" lengthAdjust="spacingAndGlyphs">1.26251</text>
<text x="8.6" y="93.9" font-size="13" fill="#3c3f47" textLength="85.5" lengthAdjust="spacingAndGlyphs">MA 100 close 0</text>
<text x="104" y="93.9" font-size="13" fill="#4caf50" textLength="43.8" lengthAdjust="spacingAndGlyphs">1.25392</text>
<text x="8.6" y="117.9" font-size="13" fill="#3c3f47" textLength="85.5" lengthAdjust="spacingAndGlyphs">MA 200 close 0</text>
<text x="104" y="117.9" font-size="13" fill="#2962ff" textLength="43.8" lengthAdjust="spacingAndGlyphs">1.24343</text>
<rect x="10" y="128" width="27.5" height="19.5" rx="3" fill="#ffffff" fill-opacity="0.85" stroke="#d1d4dc" stroke-width="1"/>
<path d="M19.5 140L23.7 136L28 140" stroke="#2a2e39" stroke-width="1.4" fill="none"/>
<text x="9.5" y="544" font-size="13" fill="#3c3f47" textLength="34.5" lengthAdjust="spacingAndGlyphs">RSI 14</text>
<text x="52.6" y="544" font-size="13" fill="#7e57c2" textLength="31.2" lengthAdjust="spacingAndGlyphs">55.00</text>
<circle cx="28.2" cy="702" r="16.3" fill="#ffffff" stroke="#e0e3eb" stroke-width="1"/>
<path d="M17.9 696.9H27.1V707.6H22.5V701H17.9Z" fill="#131722"/>
<circle cx="29.7" cy="699" r="1.8" fill="#131722"/>
<path d="M33.8 696.9H39.3L34.1 707.6H28.6Z" fill="#131722"/>
</svg>
</body></html>
